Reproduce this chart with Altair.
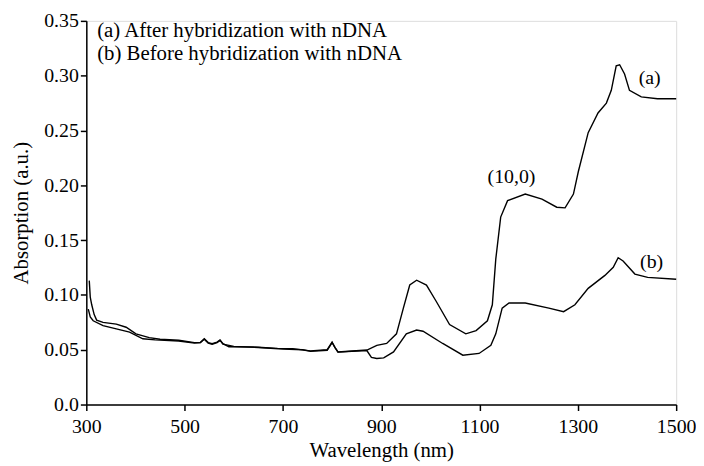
import altair as alt
import pandas as pd

# Curve (a): after hybridization with nDNA
wl_a = [306, 308, 311, 316, 321, 334, 361, 381, 401, 428, 450, 488, 520, 532, 540, 548, 556,
        566, 572, 578, 590, 640, 689, 720, 756, 790, 800, 806, 812, 871, 891, 911, 931, 945,
        958, 972, 992, 1012, 1039, 1072, 1093, 1116, 1126, 1133, 1143, 1157, 1193, 1227, 1257,
        1274, 1291, 1301, 1321, 1341, 1358, 1368, 1378, 1385, 1395, 1405, 1429, 1462, 1500]
abs_a = [0.113, 0.098, 0.091, 0.082, 0.077, 0.075, 0.0734, 0.0705, 0.0645, 0.061, 0.0595, 0.0586,
         0.0565, 0.0565, 0.060, 0.0565, 0.0555, 0.057, 0.059, 0.0555, 0.0527, 0.0525, 0.0512,
         0.051, 0.049, 0.050, 0.057, 0.052, 0.048, 0.0497, 0.054, 0.0557, 0.0645, 0.088, 0.109,
         0.1134, 0.109, 0.094, 0.073, 0.0645, 0.0675, 0.0764, 0.091, 0.1326, 0.171, 0.186, 0.192,
         0.1874, 0.180, 0.1794, 0.192, 0.2126, 0.248, 0.266, 0.275, 0.2866, 0.309, 0.310, 0.3016,
         0.2866, 0.2807, 0.279, 0.279]

# Curve (b): before hybridization with nDNA
wl_b = [304, 308, 314, 334, 361, 388, 415, 440, 488, 520, 532, 540, 548, 556, 566, 572, 578,
        600, 650, 700, 740, 756, 790, 800, 806, 812, 860, 871, 880, 891, 905, 925, 951, 972,
        985, 1025, 1066, 1099, 1123, 1133, 1146, 1160, 1193, 1241, 1271, 1294, 1321, 1355,
        1372, 1382, 1392, 1416, 1442, 1500]
abs_b = [0.087, 0.080, 0.0764, 0.072, 0.069, 0.066, 0.060, 0.059, 0.058, 0.056, 0.0565, 0.0595,
         0.056, 0.055, 0.0565, 0.0585, 0.055, 0.053, 0.052, 0.0505, 0.050, 0.0485, 0.0495,
         0.0565, 0.052, 0.0478, 0.049, 0.049, 0.043, 0.042, 0.0425, 0.048, 0.0645, 0.068,
         0.0669, 0.0557, 0.045, 0.0466, 0.054, 0.0645, 0.088, 0.0926, 0.0926, 0.088, 0.0847,
         0.091, 0.106, 0.1178, 0.1252, 0.134, 0.131, 0.119, 0.116, 0.1143]

# Annotations
ann_text = ["(a)", "(b)", "(10,0)"]
ann_x = [1446, 1450, 1165]
ann_y = [0.2976, 0.1297, 0.2079]

legend_text = ["(a) After hybridization with nDNA", "(b) Before hybridization with nDNA"]
legend_x = [322, 322]
legend_y = [0.341, 0.3197]

x_ticks = [300, 500, 700, 900, 1100, 1300, 1500]
y_ticks = [0.0, 0.05, 0.10, 0.15, 0.20, 0.25, 0.30, 0.35]

FONT = "Liberation Serif"

lines_df = pd.concat([
    pd.DataFrame({"wl": wl_a, "absorb": abs_a, "series": "a", "idx": range(len(wl_a))}),
    pd.DataFrame({"wl": wl_b, "absorb": abs_b, "series": "b", "idx": range(len(wl_b))}),
])
ann_df = pd.DataFrame({"wl": ann_x, "absorb": ann_y, "t": ann_text})
leg_df = pd.DataFrame({"wl": legend_x, "absorb": legend_y, "t": legend_text})

xscale = alt.Scale(domain=[300, 1500], nice=False, zero=False)
yscale = alt.Scale(domain=[0, 0.35], nice=False)

lines = alt.Chart(lines_df).mark_line(color="black", strokeWidth=1.4).encode(
    x=alt.X("wl:Q", scale=xscale,
            axis=alt.Axis(title="Wavelength (nm)", values=x_ticks, format="d",
                          labelFontSize=20, titleFontSize=21, labelFont=FONT, titleFont=FONT,
                          titleFontWeight="normal", labelColor="black", titleColor="black",
                          domainColor="black", tickColor="black", domainWidth=1.5, tickWidth=1.5,
                          tickSize=6, labelPadding=6, titlePadding=3, grid=False,
                          labelFlush=False)),
    y=alt.Y("absorb:Q", scale=yscale,
            axis=alt.Axis(title="Absorption (a.u.)", values=y_ticks,
                          labelExpr="datum.value == 0 ? '0.0' : format(datum.value, '.2f')",
                          labelFontSize=20, titleFontSize=21, labelFont=FONT, titleFont=FONT,
                          titleFontWeight="normal", labelColor="black", titleColor="black",
                          domainColor="black", tickColor="black", domainWidth=1.5, tickWidth=1.5,
                          tickSize=6, labelPadding=2, titlePadding=12, grid=False,
                          labelFlush=False)),
    detail="series:N",
    order="idx:Q",
)

ann = alt.Chart(ann_df).mark_text(font=FONT, fontSize=20, color="black", align="center",
                                  baseline="middle").encode(
    x=alt.X("wl:Q", scale=xscale), y=alt.Y("absorb:Q", scale=yscale), text="t:N")

leg = alt.Chart(leg_df).mark_text(font=FONT, fontSize=21, color="black", align="left",
                                  baseline="middle").encode(
    x=alt.X("wl:Q", scale=xscale), y=alt.Y("absorb:Q", scale=yscale), text="t:N")

chart = alt.layer(lines, ann, leg).properties(
    width=595, height=387,
    autosize=alt.AutoSizeParams(type="none"),
    padding={"left": 79, "top": 11, "right": 20, "bottom": 58},
).configure_view(stroke=None).configure(background="white")

chart.save("out.html", embed_options={"renderer": "svg", "actions": False})
